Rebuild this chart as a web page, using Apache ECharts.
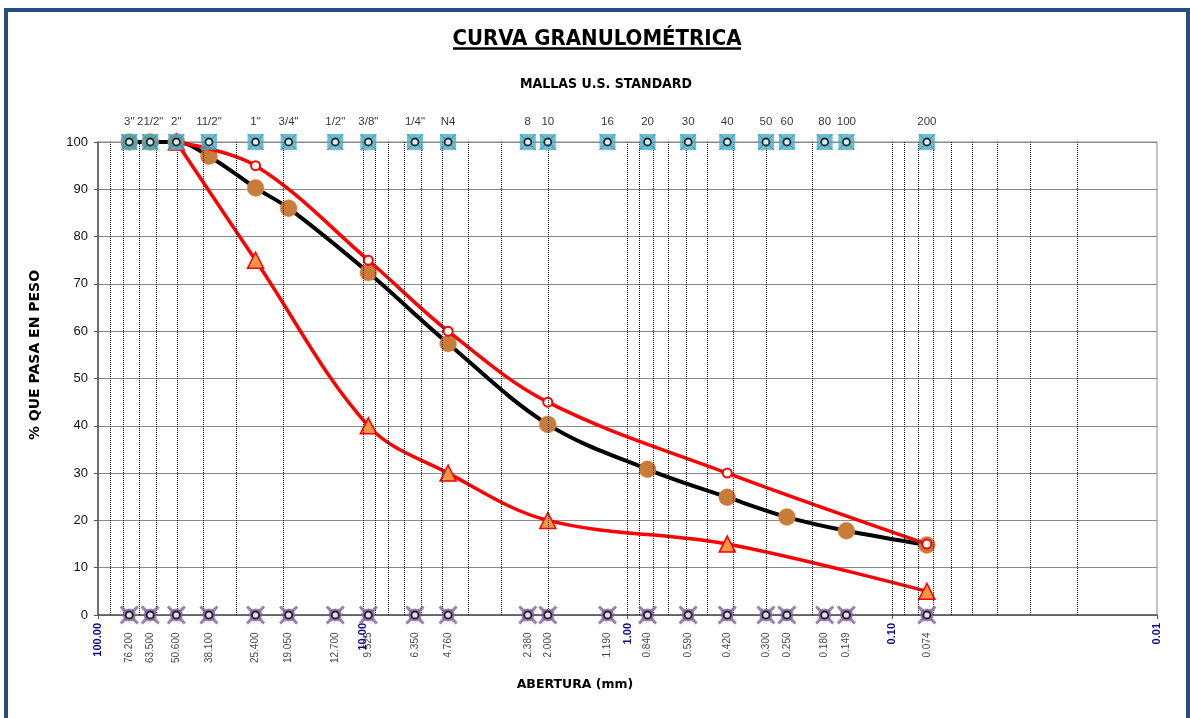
<!DOCTYPE html>
<html>
<head>
<meta charset="utf-8">
<title>Curva granulométrica</title>
<script src="https://cdn.jsdelivr.net/npm/echarts@6/dist/echarts.min.js"></script>
<style>
html, body { margin: 0; padding: 0; background: #fff; }
#chart_curva { width: 1190px; height: 718px; }
</style>
</head>
<body>
<div id="chart_curva"></div>
<script>
// mallas U.S. standard y su abertura (mm)
var mallas = ['3"', '21/2"', '2"', '11/2"', '1"', '3/4"', '1/2"', '3/8"', '1/4"', 'N4',
    '8', '10', '16', '20', '30', '40', '50', '60', '80', '100', '200'];
var aberturas = [76.2, 63.5, 50.6, 38.1, 25.4, 19.05, 12.7, 9.525, 6.35, 4.76,
    2.38, 2.0, 1.19, 0.84, 0.59, 0.42, 0.3, 0.25, 0.18, 0.149, 0.074];

// curva del material
var tamMaterial = [76.2, 63.5, 50.6, 38.1, 25.4, 19.05, 9.525, 4.76, 2.0, 0.84, 0.42, 0.25, 0.149, 0.074];
var pasaMaterial = [100, 100, 100, 97, 90.3, 86, 72.4, 57.4, 40.3, 30.8, 24.9, 20.7, 17.8, 14.8];

// limites del huso
var tamLimites = [50.6, 25.4, 9.525, 4.76, 2.0, 0.42, 0.074];
var limSuperior = [100, 95, 75, 60, 45, 30, 15];
var limInferior = [100, 75, 40, 30, 20, 15, 5];

var decadas = [100, 10, 1, 0.1, 0.01];
var pasaTicks = [0, 10, 20, 30, 40, 50, 60, 70, 80, 90, 100];

function pares(xs, ys) {
    return xs.map(function (x, i) { return [x, ys[i]]; });
}

// lineas verticales del papel logaritmico
var lineasLog = [];
decadas.slice(0, 4).forEach(function (d) {
    if (d < 100) lineasLog.push({ xAxis: d });
    for (var k = 9; k >= 2; k--) lineasLog.push({ xAxis: d * k / 10 });
});

var myChart = echarts.init(document.getElementById('chart_curva'));

var option = {
    animation: false,
    backgroundColor: '#fff',
    grid: {
        left: 98, right: 33, top: 142, bottom: 103,
        show: true, borderColor: '#888', borderWidth: 1
    },
    xAxis: {
        type: 'log',
        logBase: 10,
        min: 0.01,
        max: 100,
        inverse: true,
        axisLine: { lineStyle: { color: '#555', width: 1.5 } },
        axisTick: { show: true, length: 4, lineStyle: { color: '#555' } },
        splitLine: { show: false },
        axisLabel: {
            rotate: 90,
            margin: 8,
            color: '#0A0A8C',
            fontWeight: 'bold',
            fontSize: 11,
            fontFamily: 'Liberation Sans',
            formatter: function (v) { return Number(v).toFixed(2); }
        }
    },
    yAxis: {
        type: 'value',
        min: 0,
        max: 100,
        interval: 10,
        axisLine: { show: true, lineStyle: { color: '#555', width: 1.5 } },
        axisTick: { show: true, length: 4, lineStyle: { color: '#555' } },
        splitLine: { lineStyle: { color: '#8a8a8a', width: 1 } },
        axisLabel: {
            margin: 10,
            color: '#111',
            fontSize: 13,
            fontFamily: 'Liberation Sans',
            formatter: function (v) { return pasaTicks.indexOf(v) >= 0 ? v : ''; }
        }
    },
    graphic: [
        {
            type: 'rect', silent: true,
            shape: { x: 6, y: 10, width: 1182, height: 720 },
            style: { fill: null, stroke: '#2B4C7E', lineWidth: 4 }
        },
        {
            type: 'text', x: 597, y: 39,
            style: {
                text: 'CURVA GRANULOMÉTRICA', align: 'center', verticalAlign: 'middle',
                font: 'bold 22px "Liberation Sans Narrow", "DejaVu Sans Condensed", sans-serif',
                fill: '#000'
            }
        },
        {
            type: 'line',
            shape: { x1: 453, y1: 48.5, x2: 741, y2: 48.5 },
            style: { stroke: '#000', lineWidth: 2.5 }
        },
        {
            type: 'text', x: 606, y: 84,
            style: {
                text: 'MALLAS U.S. STANDARD', align: 'center', verticalAlign: 'middle',
                font: 'bold 14px "Liberation Sans Narrow", "DejaVu Sans Condensed", sans-serif',
                fill: '#000'
            }
        },
        {
            type: 'text', x: 35, y: 355, rotation: Math.PI / 2,
            style: {
                text: '% QUE PASA EN PESO', align: 'center', verticalAlign: 'middle',
                font: 'bold 14px "DejaVu Sans", sans-serif', fill: '#000'
            }
        },
        {
            type: 'text', x: 575, y: 685,
            style: {
                text: 'ABERTURA (mm)', align: 'center', verticalAlign: 'middle',
                font: 'bold 12.5px "DejaVu Sans", sans-serif', fill: '#000'
            }
        }
    ],
    series: [
        {
            name: 'rejilla',
            type: 'line',
            data: [],
            silent: true,
            markLine: {
                silent: true,
                symbol: 'none',
                label: { show: false },
                lineStyle: { color: '#111', type: [1, 1], width: 1 },
                data: lineasLog
            }
        },
        {
            name: 'material',
            type: 'line',
            data: pares(tamMaterial, pasaMaterial),
            smooth: 0.35,
            clip: false,
            z: 3,
            lineStyle: { color: '#000', width: 4 },
            symbol: 'circle',
            symbolSize: 17,
            itemStyle: { color: '#C97B38', borderColor: '#D9975E', borderWidth: 0.5 }
        },
        {
            name: 'superior',
            type: 'line',
            data: pares(tamLimites, limSuperior),
            smooth: 0.35,
            clip: false,
            z: 4,
            lineStyle: { color: '#FF0000', width: 3.5 },
            symbol: 'circle',
            symbolSize: 9,
            itemStyle: { color: '#fff', borderColor: '#FF0000', borderWidth: 2 }
        },
        {
            name: 'inferior',
            type: 'line',
            data: pares(tamLimites, limInferior),
            smooth: 0.35,
            clip: false,
            z: 4,
            lineStyle: { color: '#FF0000', width: 3.5 },
            symbol: 'triangle',
            symbolSize: 16,
            itemStyle: { color: '#F79646', borderColor: '#FF0000', borderWidth: 1.5 }
        },
        // marcas de mallas arriba
        {
            type: 'scatter',
            data: aberturas.map(function (a) { return [a, 100]; }),
            symbol: 'rect',
            symbolSize: 16,
            z: 5,
            silent: true,
            itemStyle: { color: '#4BACC6' },
            label: {
                show: true,
                position: 'top',
                distance: 6,
                color: '#000',
                fontSize: 11.5,
                fontFamily: 'Liberation Sans',
                formatter: function (p) { return mallas[p.dataIndex]; }
            }
        },
        {
            type: 'scatter',
            data: aberturas.map(function (a) { return [a, 100]; }),
            symbol: 'path://M0,0L20,20M20,0L0,20',
            symbolSize: 16,
            z: 6,
            silent: true,
            itemStyle: { color: 'none', borderColor: '#2E86A3', borderWidth: 1 }
        },
        {
            type: 'scatter',
            data: aberturas.map(function (a) { return [a, 100]; }),
            symbol: 'circle',
            symbolSize: 7,
            z: 7,
            silent: true,
            itemStyle: { color: '#fff', borderColor: '#000', borderWidth: 1.8 }
        },
        // marcas de mallas abajo
        {
            type: 'scatter',
            data: aberturas.map(function (a) { return [a, 0]; }),
            symbol: 'circle',
            symbolSize: 13,
            z: 5,
            silent: true,
            itemStyle: { color: '#8064A2' }
        },
        {
            type: 'scatter',
            data: aberturas.map(function (a) { return [a, 0]; }),
            symbol: 'path://M2,0L10,7L18,0L20,2L13,10L20,18L18,20L10,13L2,20L0,18L7,10L0,2Z',
            symbolSize: 19,
            z: 6,
            silent: true,
            itemStyle: { color: '#8064A2' },
            label: {
                show: true,
                position: 'bottom',
                distance: 8,
                rotate: 90,
                align: 'right',
                verticalAlign: 'middle',
                color: '#111',
                fontSize: 10,
                fontFamily: 'Liberation Sans',
                formatter: function (p) { return aberturas[p.dataIndex].toFixed(3); }
            }
        },
        {
            type: 'scatter',
            data: aberturas.map(function (a) { return [a, 0]; }),
            symbol: 'circle',
            symbolSize: 7,
            z: 7,
            silent: true,
            itemStyle: { color: '#fff', borderColor: '#000', borderWidth: 1.8 }
        }
    ]
};

myChart.setOption(option);
</script>
</body>
</html>
